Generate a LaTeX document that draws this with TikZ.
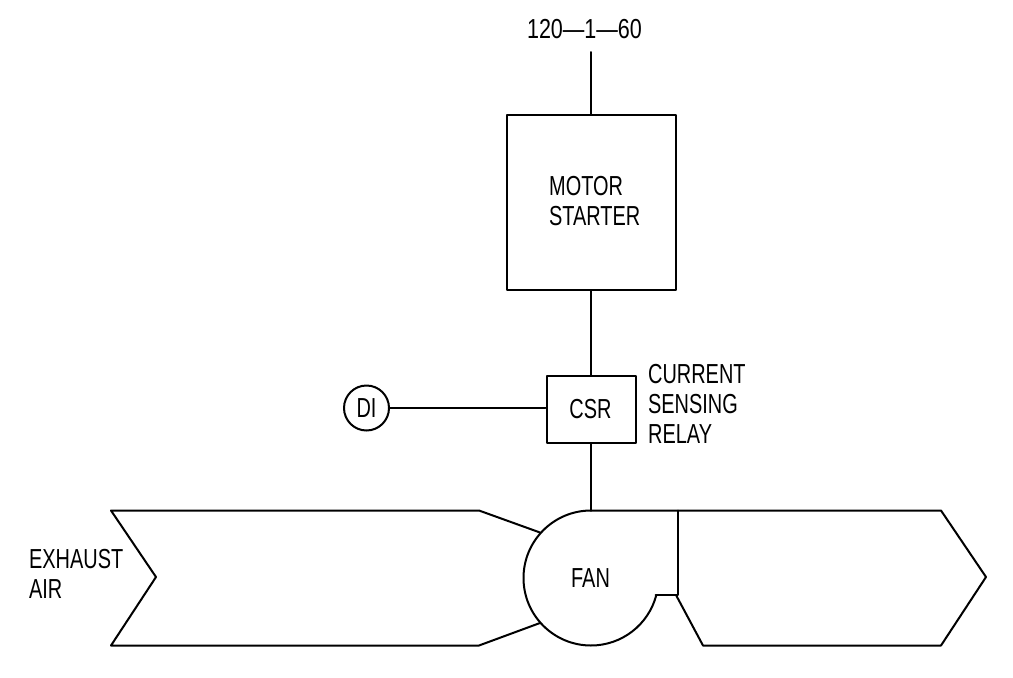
\documentclass[tikz,border=0pt]{standalone}
\usepackage{fontspec}
\setmainfont{Liberation Sans}
\tikzset{
  ln/.style={draw=black,line width=2pt,line join=round,line cap=round},
  lbl/.style={inner sep=0pt,font=\fontsize{27.5}{30}\selectfont,text=black,align=left,xscale=.725},
  boxn/.style={ln,inner sep=0pt,anchor=north west}
}
\begin{document}
\begin{tikzpicture}[x=1pt,y=-1pt]
\useasboundingbox (0,0) rectangle (1013,678);
\node[lbl,xscale=1.08] (volt) at (584.5,29) {120—1—60};
\node[boxn,minimum width=169pt,minimum height=175pt] (starter) at (506,114) {};
\node[lbl,anchor=west] (startertxt) at (549,201) {MOTOR\\STARTER};
\node[boxn,minimum width=89pt,minimum height=67pt] (csr) at (545.5,375) {};
\node[lbl] (csrtxt) at (590.5,409) {CSR};
\node[lbl,anchor=west] (relay) at (648,404) {CURRENT\\SENSING\\RELAY};
\node[ln,circle,minimum size=45pt,inner sep=0pt] (di) at (366.5,408) {};
\node[lbl] (ditxt) at (366.5,408.5) {DI};
\node[lbl,anchor=west] (exhaust) at (29,574) {EXHAUST\\AIR};
\node[lbl] (fantxt) at (590.5,578) {FAN};
\coordinate (top) at (591,52);
\coordinate (fantop) at (591,510.5);
\draw[ln] (top) -- (starter.north -| top);
\draw[ln] (starter.south -| top) -- (csr.north -| top);
\draw[ln] (csr.south -| top) -- (fantop);
\draw[ln] (di) -- (csr.west |- di);
\draw[ln] (540,532.5) -- (479,510.5) -- (111,510.5) -- (156,577) -- (111,645.5) -- (479,645.5) -- (540,623);
\draw[ln] (fantop) -- (941,510.5) -- (986,577) -- (941,645.5) -- (703,645.5) -- (676,595);
\draw[ln] (678,510.5) -- (678,595) -- (655.5,595);
\draw[ln] (fantop) arc[start angle=-90,end angle=-345,radius=67.5];
\end{tikzpicture}
\end{document}
